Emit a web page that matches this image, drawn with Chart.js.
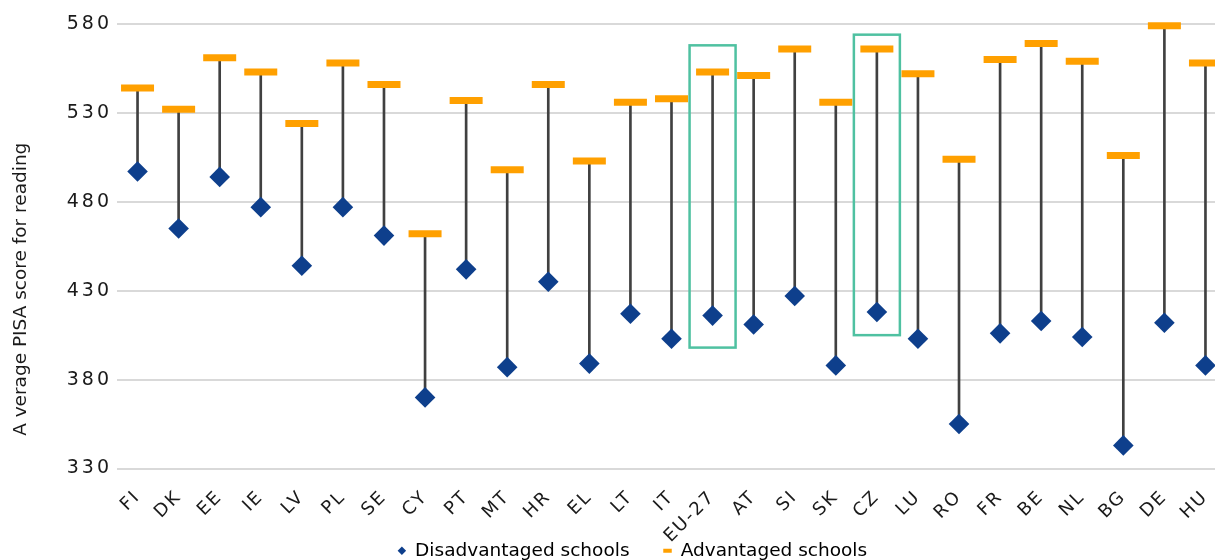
<!DOCTYPE html>
<html>
<head>
<meta charset="utf-8">
<title>PISA reading scores by school type</title>
<script src="https://cdn.jsdelivr.net/npm/chart.js@4.4.1/dist/chart.umd.min.js"></script>
<style>
    html, body { margin: 0; padding: 0; background: #ffffff; }
    #wrap { width: 1215px; height: 560px; overflow: hidden; }
    #pisaChart { display: block; }
</style>
</head>
<body>
<div id="wrap"><canvas id="pisaChart" width="1265" height="570"></canvas></div>
<script>
// Average reading score by country, split by school socio-economic profile
const countries = ['FI', 'DK', 'EE', 'IE', 'LV', 'PL', 'SE', 'CY', 'PT', 'MT', 'HR', 'EL', 'LT', 'IT',
    'EU-27', 'AT', 'SI', 'SK', 'CZ', 'LU', 'RO', 'FR', 'BE', 'NL', 'BG', 'DE', 'HU'];
const disadvantaged = [497, 465, 494, 477, 444, 477, 461, 370, 442, 387, 435, 389, 417, 403,
    416, 411, 427, 388, 418, 403, 355, 406, 413, 404, 343, 412, 388];
const advantaged = [544, 532, 561, 553, 524, 558, 546, 462, 537, 498, 546, 503, 536, 538,
    553, 551, 566, 536, 566, 552, 504, 560, 569, 559, 506, 579, 558];
const yTicks = [330, 380, 430, 480, 530, 580];
const yTitle = 'A verage PISA score for reading';

// Framed columns (score range covered by each frame)
const highlighted = [
    { country: 'EU-27', from: 398, to: 568 },
    { country: 'CZ', from: 405, to: 574 }
];

const BLUE = '#0e3f8c';
const ORANGE = '#ffa000';
const STEM = '#404040';
const TEAL = '#4fc1a1';

Chart.defaults.font.family = "'DejaVu Sans', Verdana, sans-serif";
Chart.defaults.color = '#1a1a1a';

// draw a scale's tick labels with extra tracking
function trackLabels(chart, scale, spacing) {
    if (scale._tracked) return;
    const draw = scale.drawLabels.bind(scale);
    scale.drawLabels = area => {
        chart.ctx.save();
        chart.ctx.letterSpacing = spacing;
        draw(area);
        chart.ctx.restore();
    };
    scale._tracked = true;
}

// layout tweaks: tracked labels, unclipped x labels, legend centred on the full canvas
const layoutTweaks = {
    id: 'layoutTweaks',
    afterLayout(chart) {
        chart.legend.right = chart.width;
        chart.scales.x._computeLabelArea = () => undefined;
        trackLabels(chart, chart.scales.x, '2px');
        trackLabels(chart, chart.scales.y, '3px');
    }
};

// rotated axis title, sitting a bit below the middle of the plot
const axisTitle = {
    id: 'axisTitle',
    afterDraw(chart) {
        const { ctx, chartArea } = chart;
        ctx.save();
        ctx.translate(21, (chartArea.top + chartArea.bottom) / 2 + 43);
        ctx.rotate(-Math.PI / 2);
        ctx.font = "18.5px 'DejaVu Sans'";
        ctx.fillStyle = '#1a1a1a';
        ctx.textAlign = 'center';
        ctx.textBaseline = 'middle';
        ctx.fillText(yTitle, 0, 0);
        ctx.restore();
    }
};

// teal frames around selected columns
const frames = {
    id: 'frames',
    afterDatasetsDraw(chart) {
        const { ctx, scales: { x, y } } = chart;
        const half = (x.getPixelForValue(1) - x.getPixelForValue(0)) * 0.56;
        ctx.save();
        ctx.strokeStyle = TEAL;
        ctx.lineWidth = 2.5;
        highlighted.forEach(h => {
            const cx = x.getPixelForValue(countries.indexOf(h.country));
            const top = y.getPixelForValue(h.to);
            const bottom = y.getPixelForValue(h.from);
            ctx.strokeRect(cx - half, top, half * 2, bottom - top);
        });
        ctx.restore();
    }
};

new Chart(document.getElementById('pisaChart'), {
    data: {
        labels: countries,
        datasets: [
            {
                type: 'line',
                label: 'Disadvantaged schools',
                data: disadvantaged,
                showLine: false,
                pointStyle: 'rectRot',
                pointRadius: 10.3,
                pointHoverRadius: 10.3,
                pointBorderWidth: 0,
                backgroundColor: BLUE,
                borderColor: BLUE,
                clip: false,
                order: 0
            },
            {
                type: 'line',
                label: 'Advantaged schools',
                data: advantaged,
                showLine: false,
                pointStyle: 'line',
                pointRadius: 16.5,
                pointHoverRadius: 16.5,
                pointBorderWidth: 7,
                backgroundColor: ORANGE,
                borderColor: ORANGE,
                clip: false,
                order: 1
            },
            {
                type: 'bar',
                label: 'Gap',
                data: countries.map((c, i) => [disadvantaged[i], advantaged[i]]),
                backgroundColor: STEM,
                barThickness: 2,
                borderSkipped: false,
                order: 2
            }
        ]
    },
    options: {
        responsive: false,
        animation: false,
        events: [],
        layout: {
            padding: { top: 24, right: 39, left: 0, bottom: 0 }
        },
        plugins: {
            tooltip: { enabled: false },
            legend: {
                position: 'bottom',
                labels: {
                    font: { size: 18.5 },
                    color: '#1a1a1a',
                    usePointStyle: true,
                    boxWidth: 8,
                    boxHeight: 6,
                    padding: 34,
                    generateLabels: chart => {
                        const ds = chart.data.datasets;
                        return [
                            { text: ds[0].label, pointStyle: 'rectRot', fillStyle: BLUE, strokeStyle: BLUE, lineWidth: 0, datasetIndex: 0, hidden: false },
                            { text: ds[1].label, pointStyle: 'line', fillStyle: ORANGE, strokeStyle: ORANGE, lineWidth: 4, datasetIndex: 1, hidden: false }
                        ];
                    }
                }
            }
        },
        scales: {
            x: {
                grid: { display: false },
                border: { display: false },
                ticks: {
                    font: { size: 18 },
                    color: '#1a1a1a',
                    minRotation: 45,
                    maxRotation: 45,
                    autoSkip: false,
                    padding: 10
                },
                afterFit: scale => { scale.height = 39; }
            },
            y: {
                min: 330,
                max: 580,
                grid: { color: '#d9d9d9', lineWidth: 2, drawTicks: false },
                border: { display: false },
                ticks: {
                    font: { size: 19 },
                    color: '#1a1a1a',
                    padding: 5
                },
                afterBuildTicks: scale => { scale.ticks = yTicks.map(v => ({ value: v })); },
                afterFit: scale => { scale.width = 117; }
            }
        }
    },
    plugins: [layoutTweaks, axisTitle, frames]
});
</script>
</body>
</html>
